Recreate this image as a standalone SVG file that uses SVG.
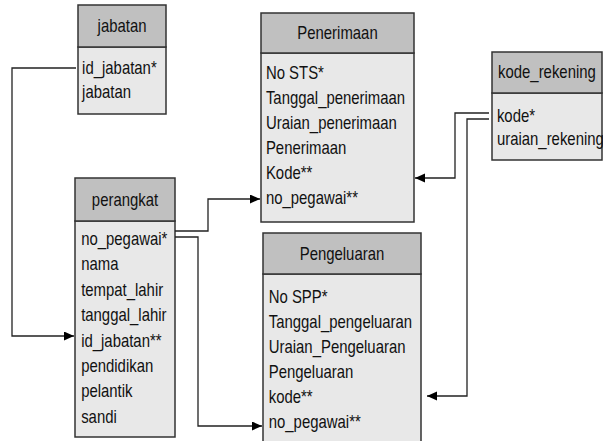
<svg xmlns="http://www.w3.org/2000/svg" width="603" height="441" viewBox="0 0 603 441">
<style>
  .hdr { fill: #c0c0c0; stroke: #333; stroke-width: 1.5; }
  .bdy { fill: #e8e8e8; stroke: #333; stroke-width: 1.5; }
  text { font-family: "Liberation Sans", Arial, sans-serif; font-size: 18.2px; fill: #111; }
  .t { text-anchor: middle; }
  .conn path { fill: none; stroke: #222; stroke-width: 1.3; }
</style>
<defs>
  <marker id="arr" markerUnits="userSpaceOnUse" markerWidth="11" markerHeight="10" refX="10" refY="4.5" orient="auto">
    <path d="M0,0 L10,4.5 L0,9 z" fill="#000"/>
  </marker>
</defs>
<rect width="603" height="441" fill="#fff"/>

<g id="jabatan">
  <rect class="bdy" x="78" y="47" width="88" height="67"/>
  <rect class="hdr" x="78" y="5" width="88" height="42"/>
  <g transform="translate(78,0) scale(0.82,1)">
    <text class="t" x="53.7" y="32.5">jabatan</text>
    <text x="5" y="74">id_jabatan*</text>
    <text x="5" y="98">jabatan</text>
  </g>
</g>

<g id="perangkat">
  <rect class="bdy" x="75" y="221" width="100" height="216"/>
  <rect class="hdr" x="75" y="178" width="100" height="43"/>
  <g transform="translate(75,0) scale(0.82,1)">
    <text class="t" x="61" y="206">perangkat</text>
    <text x="7.5" y="245">no_pegawai*</text>
    <text x="7.5" y="270.4">nama</text>
    <text x="7.5" y="295.8">tempat_lahir</text>
    <text x="7.5" y="321.2">tanggal_lahir</text>
    <text x="7.5" y="346.6">id_jabatan**</text>
    <text x="7.5" y="372">pendidikan</text>
    <text x="7.5" y="397.4">pelantik</text>
    <text x="7.5" y="422.8">sandi</text>
  </g>
</g>

<g id="penerimaan">
  <rect class="bdy" x="261" y="53" width="153" height="169"/>
  <rect class="hdr" x="261" y="13" width="153" height="40"/>
  <g transform="translate(261,0) scale(0.82,1)">
    <text class="t" x="93.3" y="39.5">Penerimaan</text>
    <text x="6" y="79">No STS*</text>
    <text x="6" y="104">Tanggal_penerimaan</text>
    <text x="6" y="129">Uraian_penerimaan</text>
    <text x="6" y="154">Penerimaan</text>
    <text x="6" y="179.5">Kode**</text>
    <text x="6" y="204">no_pegawai**</text>
  </g>
</g>

<g id="pengeluaran">
  <rect class="bdy" x="263" y="274" width="158" height="175"/>
  <rect class="hdr" x="263" y="233" width="158" height="41"/>
  <g transform="translate(263,0) scale(0.82,1)">
    <text class="t" x="96.3" y="260">Pengeluaran</text>
    <text x="7" y="303">No SPP*</text>
    <text x="7" y="328">Tanggal_pengeluaran</text>
    <text x="7" y="353">Uraian_Pengeluaran</text>
    <text x="7" y="378">Pengeluaran</text>
    <text x="7" y="403">kode**</text>
    <text x="7" y="428">no_pegawai**</text>
  </g>
</g>

<g id="kode_rekening">
  <rect class="bdy" x="492" y="93" width="110" height="67"/>
  <rect class="hdr" x="492" y="52" width="110" height="41"/>
  <g transform="translate(492,0) scale(0.82,1)">
    <text class="t" x="67" y="78">kode_rekening</text>
    <text x="6" y="122">kode*</text>
    <text x="6" y="145">uraian_rekening</text>
  </g>
</g>

<g id="connectors" class="conn">
  <path d="M76,68 H12 V336 H74" marker-end="url(#arr)"/>
  <path d="M175,231 H208 V199 H260" marker-end="url(#arr)"/>
  <path d="M175,237 H198 V426 H262" marker-end="url(#arr)"/>
  <path d="M489,113 H455 V178 H415" marker-end="url(#arr)"/>
  <path d="M489,119 H467 V396 H427" marker-end="url(#arr)"/>
</g>
</svg>
